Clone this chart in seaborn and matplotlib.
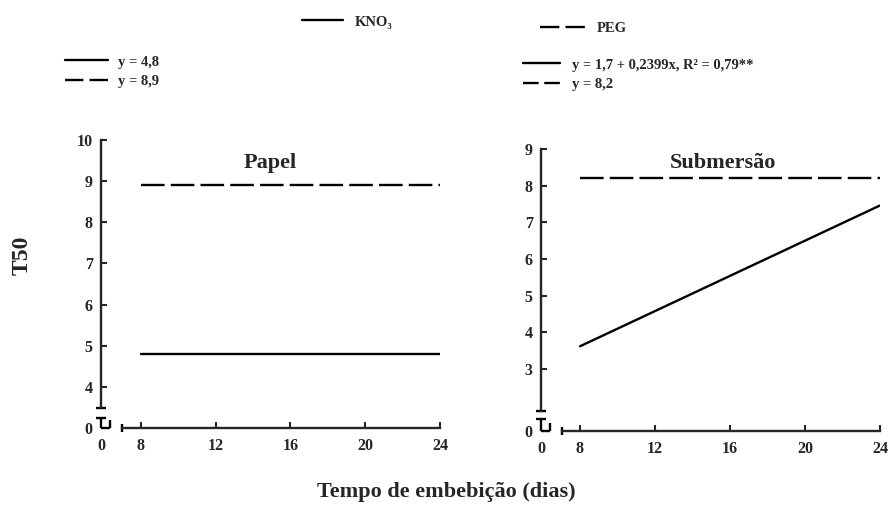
import matplotlib
matplotlib.use("Agg")
import matplotlib.pyplot as plt
import matplotlib.transforms as mtransforms
from matplotlib.lines import Line2D
import pandas as pd
import seaborn as sns

# Days of imbibition and fitted T50 values for each treatment
dias = [8, 12, 16, 20, 24]
papel_kno3 = [4.8, 4.8, 4.8, 4.8, 4.8]            # y = 4,8
papel_peg = [8.9, 8.9, 8.9, 8.9, 8.9]             # y = 8,9
submersao_kno3 = [3.62, 4.58, 5.54, 6.50, 7.46]   # y = 1,7 + 0,2399x
submersao_peg = [8.2, 8.2, 8.2, 8.2, 8.2]         # y = 8,2

tratamentos = ["KNO₃", "PEG"]
x_ticks = [8, 12, 16, 20, 24]
papel_yticks = [4, 5, 6, 7, 8, 9, 10]
submersao_yticks = [3, 4, 5, 6, 7, 8, 9]

eq_papel = ["y = 4,8", "y = 8,9"]
eq_submersao = ["y = 1,7 + 0,2399x, R² = 0,79**", "y = 8,2"]

def long_table(kno3, peg):
    return pd.DataFrame({
        "dias": dias + dias,
        "T50": kno3 + peg,
        "tratamento": [tratamentos[0]] * len(dias) + [tratamentos[1]] * len(dias),
    })

sns.set_style("white")
plt.rcParams["font.family"] = ["Liberation Serif", "DejaVu Serif"]
plt.rcParams["font.weight"] = "bold"
plt.rcParams["axes.linewidth"] = 1.7

LW = 1.7
DASH_PLOT = (10, 2.6)
dash_map = {tratamentos[0]: "", tratamentos[1]: DASH_PLOT}

fig = plt.figure(figsize=(8.92, 5.19), dpi=100)
FW, FH = 892, 519

panels = [
    dict(title="Papel", kno3=papel_kno3, peg=papel_peg, yticks=papel_yticks,
         rect=[101, 428, 339, 288], xlim=(5.86, 24.0), ylim=(3.004, 10.0),
         y_break_top=3.49, y_stub_top=3.25, x_stub_end=6.34, x_seg_start=6.98,
         title_pos=(0.5, 0.92)),
    dict(title="Submersão", kno3=submersao_kno3, peg=submersao_peg, yticks=submersao_yticks,
         rect=[541, 431, 339, 282], xlim=(5.92, 24.0), ylim=(1.31, 9.0),
         y_break_top=1.855, y_stub_top=1.64, x_stub_end=6.40, x_seg_start=7.04,
         title_pos=(0.537, 0.95)),
]

for p in panels:
    left, bottom, w, h = p["rect"]
    ax = fig.add_axes([left / FW, (FH - bottom) / FH, w / FW, h / FH])
    ax.set_facecolor("none")
    sns.lineplot(data=long_table(p["kno3"], p["peg"]), x="dias", y="T50",
                 style="tratamento", dashes=dash_map, color="black",
                 linewidth=LW, legend=False, ax=ax)
    ax.set_xlim(*p["xlim"])
    ax.set_ylim(*p["ylim"])

    ax.set_xticks([p["xlim"][0]] + x_ticks)
    ax.set_xticklabels(["0"] + [str(v) for v in x_ticks])
    ax.set_yticks([p["ylim"][0]] + p["yticks"])
    ax.set_yticklabels(["0"] + [str(v) for v in p["yticks"]])
    ax.tick_params(direction="in", length=4.5, width=1.5, labelsize=11.5,
                   left=True, bottom=True)
    ax.tick_params(axis="y", pad=6)
    ax.tick_params(axis="x", pad=7)
    ax.xaxis.get_major_ticks()[0].tick1line.set_visible(False)
    ax.yaxis.get_major_ticks()[0].tick1line.set_visible(False)
    for lab in ax.get_xticklabels() + ax.get_yticklabels():
        lab.set_fontweight("bold")
    ax.set_xlabel("")
    ax.set_ylabel("")
    ax.grid(False)

    for s in ("top", "right"):
        ax.spines[s].set_visible(False)
    ax.spines["left"].set_bounds(p["y_break_top"], p["ylim"][1])
    ax.spines["bottom"].set_bounds(p["x_seg_start"], p["xlim"][1])

    # broken-axis marks near the origin
    cx = 5.0 / w
    cy = 4.0 / h
    tr_y = mtransforms.blended_transform_factory(ax.transAxes, ax.transData)
    tr_x = mtransforms.blended_transform_factory(ax.transData, ax.transAxes)
    kw = dict(color="black", lw=LW, clip_on=False, solid_capstyle="butt")
    ax.plot([-cx, cx], [p["y_break_top"]] * 2, transform=tr_y, **kw)
    ax.plot([-cx, cx], [p["y_stub_top"]] * 2, transform=tr_y, **kw)
    ax.plot([0, 0], [p["y_stub_top"], p["ylim"][0]], transform=tr_y, **kw)
    ax.plot([p["xlim"][0], p["x_stub_end"]], [0, 0], transform=tr_x, **kw)
    ax.plot([p["x_stub_end"]] * 2, [0, 2 * cy], transform=tr_x, **kw)
    ax.plot([p["x_seg_start"]] * 2, [-cy, cy], transform=tr_x, **kw)

    ax.text(p["title_pos"][0], p["title_pos"][1], p["title"], transform=ax.transAxes,
            ha="center", va="center", fontsize=16, fontweight="bold")

def handle(dash=None):
    ln = Line2D([], [], color="black", lw=LW)
    if dash is not None:
        ln.set_dashes(dash)
    return ln

leg_kw = dict(loc="center left", frameon=False, borderpad=0, borderaxespad=0,
              prop={"weight": "bold", "size": 10.5})

# treatment key at the top
fig.legend([handle()], [tratamentos[0]], bbox_to_anchor=(302 / FW, 1 - 22 / FH),
           handlelength=2.8, handletextpad=0.8, **leg_kw)
fig.legend([handle((8.2, 2.6))], [tratamentos[1]], bbox_to_anchor=(540 / FW, 1 - 28 / FH),
           handlelength=3.08, handletextpad=0.8, **leg_kw)

# fitted equations for each panel
fig.legend([handle(), handle((7.8, 2.6))], eq_papel, bbox_to_anchor=(65 / FW, 1 - 71.5 / FH),
           handlelength=2.95, handletextpad=0.68, labelspacing=0.4, **leg_kw)
fig.legend([handle(), handle((6.6, 2.4))], eq_submersao, bbox_to_anchor=(523 / FW, 1 - 74.5 / FH),
           handlelength=2.53, handletextpad=0.8, labelspacing=0.4, **leg_kw)

fig.text(22 / FW, 1 - 255 / FH, "T50", rotation=90, ha="center", va="center",
         fontsize=17, fontweight="bold")
fig.text(446 / FW, 1 - 492 / FH, "Tempo de embebição (dias)", ha="center", va="center",
         fontsize=16, fontweight="bold")

fig.savefig("out.png", dpi=100)
